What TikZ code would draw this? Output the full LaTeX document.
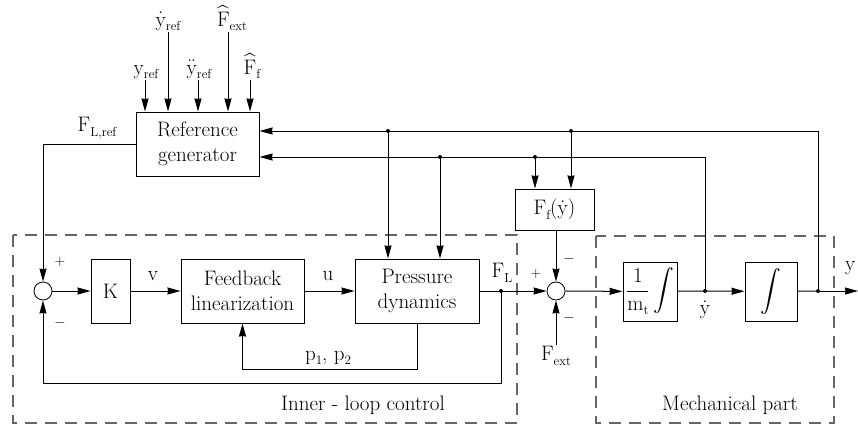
\documentclass[tikz,border=0pt]{standalone}
\usepackage{exscale}
\usetikzlibrary{arrows.meta,calc}
\newcommand\sbs[1]{\raisebox{-0.22em}{\fontsize{13}{14}\selectfont #1}}
\newcommand\dy{$\dot{\mbox{y}}$}
\newcommand\ddy{$\ddot{\mbox{y}}$}
\newcommand\hF{$\widehat{\mbox{F}}$}
\begin{document}
\begin{tikzpicture}[x=1pt,y=-1pt,
  every node/.style={font=\fontsize{21}{25}\selectfont},
  blk/.style={draw,line width=1pt,inner sep=0pt,align=center},
  sumc/.style={draw,circle,line width=0.8pt,minimum size=18pt,inner sep=0pt},
  conn/.style={line width=1pt},
  arr/.style={conn,-{Stealth[length=13pt,width=7pt,inset=0.5pt]}},
  dotn/.style={circle,fill,inner sep=0pt,minimum size=4pt},
  grp/.style={draw=black!60,line width=1.3pt,dash pattern=on 12pt off 8pt},
  lbl/.style={inner sep=1pt},
  sgn/.style={inner sep=1pt,font=\fontsize{14}{16}\selectfont}]
\useasboundingbox (0,0) rectangle (858,425);
% groups
\draw[grp] (13,235) rectangle (517,423);
\draw[grp] (596,236) rectangle (834,423);
\node[lbl] (tin) at (363,405) {Inner - loop control};
\node[lbl] (tmp) at (730,405) {Mechanical part};
% blocks
\node[blk,minimum width=123pt,minimum height=64pt] (RG) at (197.5,144) {Reference\\generator};
\node[blk,minimum width=39pt,minimum height=64pt] (K) at (110.5,291) {K};
\node[blk,minimum width=123pt,minimum height=64pt] (FBL) at (242.5,291) {Feedback\\linearization};
\node[blk,minimum width=124pt,minimum height=64pt] (PD) at (417,291) {Pressure\\dynamics};
\node[blk,minimum width=79pt,minimum height=41pt] (Ff) at (554.5,209.5) {F\sbs{f}(\dy)};
\node[blk,minimum width=54pt,minimum height=59pt] (M) at (650,291.5) {$\displaystyle\frac{\mbox{1}}{\mbox{m\sbs{t}}}\int$};
\node[blk,minimum width=52pt,minimum height=59pt] (I) at (771,291.5) {$\displaystyle\int$};
\node[sumc] (s1) at (43,291) {};
\node[sumc] (s2) at (556,291) {};
% dots
\node[dotn] (FL) at (501,291) {};
\node[dotn] (yd) at (705,291) {};
\node[dotn] (yo) at (818,291) {};
\node[dotn] (b1) at (388,131) {};
\node[dotn] (b2) at (571,131) {};
\node[dotn] (b3) at (440,157) {};
\node[dotn] (b4) at (535,157) {};
\coordinate (yout) at (858,291);
\coordinate (fbk) at (43,383);
\coordinate (pp) at (417,369);
\coordinate (pq) at (242.5,369);
\coordinate (fe) at (556,345);
% top inputs
\node[lbl,anchor=south] (i1) at (146,80) {y\sbs{ref}};
\node[lbl,anchor=south] (i2) at (168,32) {\dy\sbs{ref}};
\node[lbl,anchor=south] (i3) at (199,80) {\ddy\sbs{ref}};
\node[lbl,anchor=south] (i4) at (232,32) {\hF\sbs{ext}};
\node[lbl,anchor=south] (i5) at (252,80) {\hF\sbs{f}};
\foreach \n/\x in {i1/145,i2/168,i3/198,i4/228,i5/250} \draw[arr] (\n.south -| \x,0) -- (\x,0 |- RG.north);
% main path
\draw[arr] (s1) -- (K);
\draw[arr] (K) -- (FBL);
\draw[arr] (FBL) -- (PD);
\draw[conn] (PD) -- (FL);
\draw[arr] (FL) -- (s2);
\draw[arr] (s2) -- (M);
\draw[conn] (M) -- (yd);
\draw[arr] (yd) -- (I);
\draw[conn] (I) -- (yo);
\draw[arr] (yo) -- (yout);
% feedbacks
\draw[arr] (FL) -- (FL |- fbk) -- (fbk) -- (s1);
\draw[arr] (PD.south -| pp) -- (pp) -- (pq) -- (FBL.south);
\draw[arr] (RG.west) -- (RG.west -| s1) -- (s1);
\draw[arr] (yo) -- (yo |- b1) -- (RG.east |- b1);
\draw[arr] (yd) -- (yd |- b3) -- (RG.east |- b3);
\draw[arr] (b1) -- (b1 |- PD.north);
\draw[arr] (b3) -- (b3 |- PD.north);
\draw[arr] (b2) -- (b2 |- Ff.north);
\draw[arr] (b4) -- (b4 |- Ff.north);
\draw[arr] (Ff.south -| s2) -- (s2);
\draw[arr] (fe) -- (s2);
% labels
\node[lbl,anchor=north] (lfe) at (fe) {F\sbs{ext}};
\node[lbl] (lflr) at (97,128) {F\sbs{L,ref}};
\node[lbl] (lfl) at (502,273) {F\sbs{L}};
\node[lbl] (lv) at (153,276) {v};
\node[lbl] (lu) at (328,276) {u};
\node[lbl] (lp) at (328,358) {p\sbs{1}, p\sbs{2}};
\node[lbl] (lyd) at (705,310) {\dy};
\node[lbl,anchor=west] (ly) at (844,268) {y};
\node[sgn] (p1) at (60,262) {+};
\node[sgn] (m1) at (60,323) {$-$};
\node[sgn] (p2) at (536,274) {+};
\node[sgn] (m2) at (569,259) {$-$};
\node[sgn] (m3) at (569,318) {$-$};
\end{tikzpicture}
\end{document}
